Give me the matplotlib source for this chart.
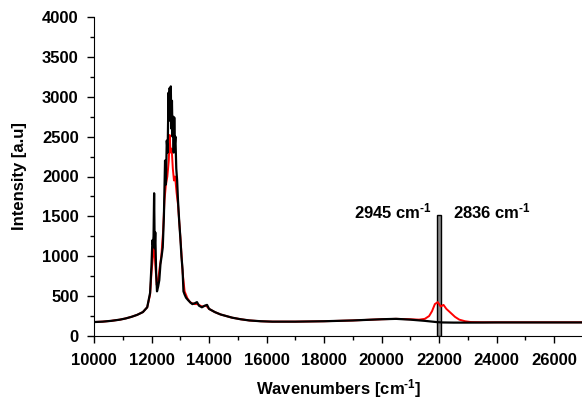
import numpy as np
import matplotlib
matplotlib.use('Agg')
import matplotlib.pyplot as plt
from matplotlib.ticker import MultipleLocator

plt.rcParams['font.family'] = ['Liberation Sans', 'DejaVu Sans']
plt.rcParams['font.weight'] = 'bold'
plt.rcParams['axes.labelweight'] = 'bold'
plt.rcParams['mathtext.default'] = 'regular'

# black spectrum (wavenumber, intensity)
black_x = [10000, 10300, 10600, 10900, 11100, 11300, 11500, 11700, 11850, 11950,
           12000, 12030, 12050, 12070, 12090, 12110, 12130, 12160, 12190, 12230,
           12270, 12310, 12350, 12390, 12430, 12470, 12500, 12530, 12560, 12590,
           12610, 12630, 12650, 12670, 12690, 12710, 12730, 12750, 12770, 12790,
           12810, 12830, 12860, 12890, 12920, 12960, 13000, 13040, 13080, 13110,
           13150, 13200, 13270, 13350, 13420, 13500, 13580, 13650, 13750, 13850,
           13930, 14000, 14200, 14400, 14600, 14800, 15100, 15400, 15800, 16200,
           17000, 18000, 19000, 20000, 20500, 21000, 21500, 21900, 22100, 22500,
           23000, 24000, 25000, 26000, 27000]
black_y = [175, 180, 190, 205, 220, 240, 265, 300, 360, 540,
           900, 1200, 1150, 1250, 1790, 1100, 1300, 800, 560, 620,
           700, 900, 1000, 1110, 1500, 2200, 1900, 2450, 2300, 3050,
           2700, 3110, 2900, 3130, 2600, 2950, 2500, 2750, 2300, 2740,
           2400, 2500, 2100, 1950, 1700, 1450, 1240, 1000, 825, 560,
           520, 480, 450, 420, 400, 410, 425, 380, 360, 380,
           390, 340, 300, 270, 250, 230, 210, 195, 185, 180,
           180, 185, 195, 210, 215, 205, 190, 175, 170, 168,
           168, 170, 170, 170, 170]

# red spectrum
red_x = [10000, 10300, 10600, 10900, 11100, 11300, 11500, 11700, 11850, 11950,
         12000, 12050, 12090, 12130, 12180, 12230, 12280, 12340, 12400, 12450,
         12500, 12550, 12600, 12630, 12660, 12700, 12740, 12780, 12820, 12870,
         12920, 12970, 13020, 13080, 13150, 13250, 13350, 13500, 13600, 13750,
         13900, 14000, 14200, 14400, 14600, 14800, 15100, 15400, 15800, 16200,
         17000, 18000, 19000, 20000, 20500, 21000, 21300, 21500, 21650, 21750,
         21850, 21950, 22050, 22150, 22250, 22400, 22550, 22700, 22900, 23100,
         23500, 24000, 25000, 26000, 27000]
red_y = [175, 180, 190, 205, 220, 240, 265, 300, 360, 520,
         800, 1000, 1160, 900, 640, 700, 850, 1000, 1300, 1700,
         1900, 2000, 2200, 2520, 2300, 2350, 2100, 1950, 2000, 1800,
         1650, 1400, 1150, 800, 560, 470, 420, 400, 400, 370,
         380, 340, 300, 270, 250, 230, 210, 195, 185, 180,
         180, 185, 195, 210, 215, 210, 205, 215, 250, 310,
         400, 425, 370, 390, 340, 290, 240, 205, 185, 175,
         172, 172, 172, 172, 172]

# narrow band at 22000
band_x = [22000]
band_h = [1515]

sup = '$^{\u2010' + '1}$'

fig = plt.figure(figsize=(5.82, 4.01), dpi=100)
ax = fig.add_axes([94 / 582, 65 / 401, 489 / 582, 319 / 401])

ax.plot(red_x, red_y, color='red', lw=1.4)
ax.plot(black_x, black_y, color='black', lw=1.6)
ax.bar(band_x, band_h, width=130, color='#8a8a8a', edgecolor='black', lw=1.0)

ax.text(21760, 1475, '2945 cm' + sup, fontsize=12, ha='right', va='baseline')
ax.text(22490, 1475, '2836 cm' + sup, fontsize=12, ha='left', va='baseline')

ax.set_xlim(10000, 27000)
ax.set_ylim(0, 4000)
ax.xaxis.set_major_locator(MultipleLocator(2000))
ax.xaxis.set_minor_locator(MultipleLocator(1000))
ax.yaxis.set_major_locator(MultipleLocator(500))
ax.yaxis.set_minor_locator(MultipleLocator(250))
ax.spines['top'].set_visible(False)
ax.spines['right'].set_visible(False)
ax.tick_params(which='major', direction='out', length=5, width=1, labelsize=12)
ax.tick_params(axis='x', which='major', pad=7)
ax.tick_params(axis='y', which='major', pad=6)
ax.tick_params(which='minor', direction='out', length=3, width=1)

ax.set_xlabel('Wavenumbers [cm' + sup + ']', fontsize=12, labelpad=7)
ax.set_ylabel('Intensity [a.u]', fontsize=12, labelpad=11)

fig.savefig('out.png', dpi=100)
